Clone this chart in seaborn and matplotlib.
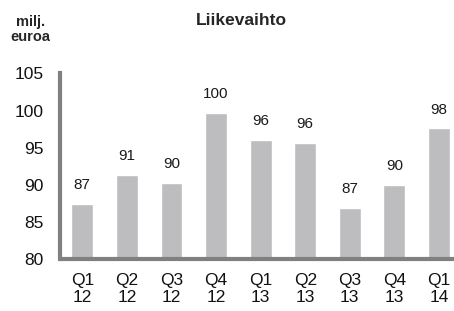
import matplotlib
matplotlib.use("Agg")
import matplotlib.pyplot as plt
import seaborn as sns
import pandas as pd

# Liikevaihto per quarter, milj. euroa
quarters = ["Q1\n12", "Q2\n12", "Q3\n12", "Q4\n12", "Q1\n13", "Q2\n13", "Q3\n13", "Q4\n13", "Q1\n14"]
values = [87.4, 91.3, 90.3, 99.7, 96.1, 95.7, 86.9, 90.0, 97.6]
labels = ["87", "91", "90", "100", "96", "96", "87", "90", "98"]

df = pd.DataFrame({"quarter": quarters, "value": values})

sns.set_style("white")
plt.rcParams["font.family"] = ["Liberation Sans", "DejaVu Sans"]

fig = plt.figure(figsize=(4.54, 3.11), dpi=100)
ax = fig.add_axes([0.1322, 0.1662, 0.868, 0.598])

sns.barplot(data=df, x="quarter", y="value", color="#bdbdbf", width=0.49,
            saturation=1, ax=ax)

for i, (v, lab) in enumerate(zip(values, labels)):
    ax.annotate(lab, (i, v), xytext=(0, 8.5), textcoords="offset points",
                ha="center", va="bottom", fontsize=11, color="#1a1a1a")

ax.set_ylim(80, 105)
ax.set_xlim(-0.5, 8.34)
ax.set_yticks([80, 85, 90, 95, 100, 105])
ax.set_xlabel("")
ax.set_ylabel("")
ax.tick_params(axis="both", length=0, labelsize=12.5, colors="#111111")
ax.tick_params(axis="y", pad=12)
ax.tick_params(axis="x", pad=10)
for t in ax.get_xticklabels():
    t.set_linespacing(1.15)

sns.despine(ax=ax)
for s in ["left", "bottom"]:
    ax.spines[s].set_color("#808080")
    ax.spines[s].set_linewidth(3)
ax.spines["bottom"].set_capstyle("butt")

fig.text(0.532, 0.933, "Liikevaihto", ha="center", va="center",
         fontsize=12.5, fontweight="bold")
fig.text(0.068, 0.905, "milj.\neuroa", ha="center", va="center",
         fontsize=10.5, fontweight="bold", linespacing=1.15)

fig.savefig("out.png", dpi=100)
